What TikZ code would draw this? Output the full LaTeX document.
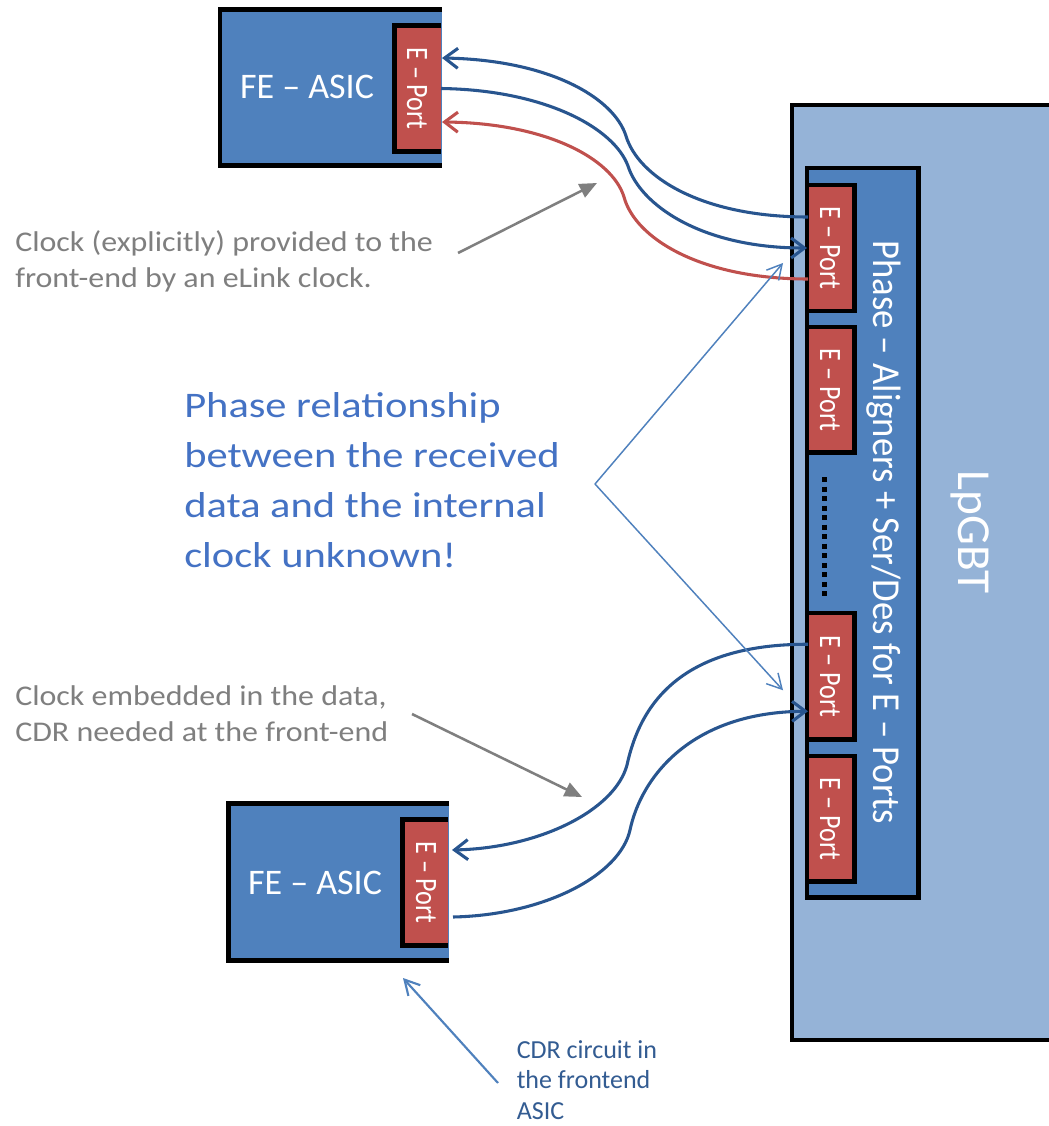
\documentclass[tikz,border=0pt]{standalone}
\usepackage{fontspec}
\setmainfont{Carlito}
\usepackage{graphicx}
\usetikzlibrary{arrows.meta,calc}

\definecolor{feblue}{HTML}{4F81BD}
\definecolor{epred}{HTML}{C0504D}
\definecolor{lpblue}{HTML}{95B3D7}
\definecolor{wireblue}{HTML}{28558F}
\definecolor{annogray}{HTML}{7F7F7F}
\definecolor{bigblue}{HTML}{4472C4}
\definecolor{thinblue}{HTML}{4F81BD}
\definecolor{cdrblue}{HTML}{335C92}

\newcommand{\pxbox}[6]{\node[#2, minimum width={(#5-#3)*0.75pt}, minimum height={(#6-#4)*0.75pt}, anchor=north west] (#1) at (#3,#4) {};}

\begin{document}
\begin{tikzpicture}[x=0.75pt,y=-0.75pt,
  rbox/.style={rectangle, inner sep=0pt, outer sep=0pt},
  fefill/.style={rbox, fill=feblue},
  epfill/.style={rbox, fill=epred},
  lpbox/.style={rbox, fill=lpblue, draw=black, line width=3.6pt},
  pabox/.style={rbox, fill=feblue, draw=black, line width=3.4pt},
  lepbox/.style={rbox, fill=epred, draw=black, line width=3.4pt},
  border/.style={draw=black, line width=3.6pt},
  whitetxt/.style={text=white, inner sep=0pt, outer sep=0pt},
  fetext/.style={whitetxt, font=\fontsize{27pt}{32pt}\selectfont},
  eptext/.style={whitetxt, rotate=-90, anchor=base, font=\fontsize{19.6pt}{23pt}\selectfont},
  wire/.style={draw=wireblue, line width=2.3pt},
  wirered/.style={draw=epred, line width=2.3pt},
  barb/.tip={Straight Barb[length=10pt,width=15pt]},
  grayarrow/.style={draw=annogray, line width=1.9pt, -{Triangle[length=13pt,width=11pt]}},
  thinarrow/.style={draw=thinblue, line width=1.1pt, -{Straight Barb[length=11pt,width=12pt]}},
  cdrarrow/.style={draw=thinblue, line width=1.6pt, -{Straight Barb[length=11pt,width=12pt]}},
  graytext/.style={text=annogray, inner sep=0pt, anchor=base west, font=\fontsize{21.4pt}{27pt}\selectfont},
  bigtext/.style={text=bigblue, inner sep=0pt, anchor=base west, font=\fontsize{27pt}{37.5pt}\selectfont},
  cdrtext/.style={text=cdrblue, inner sep=0pt, anchor=base west, font=\fontsize{19.5pt}{23.2pt}\selectfont}
]
\fill[white] (0,0) rectangle (1048,1126);
\useasboundingbox (0,0) rectangle (1048,1126);

% ---------- LpGBT ----------
\pxbox{lp}{lpbox}{792}{105}{1075}{1040}
\pxbox{pa}{pabox}{807}{168}{918.5}{897.5}
\pxbox{lep1}{lepbox}{807}{185}{854.5}{311}
\pxbox{lep2}{lepbox}{807}{327}{854.5}{452.5}
\pxbox{lep3}{lepbox}{807}{613}{854.5}{739.5}
\pxbox{lep4}{lepbox}{807}{756}{854.5}{881.5}
\node[eptext] (lep1t) at (820,248) {\scalebox{1}[1.19]{E – Port}};
\node[eptext] (lep2t) at (820,389.75) {\scalebox{1}[1.19]{E – Port}};
\node[eptext] (lep3t) at (820,676.25) {\scalebox{1}[1.19]{E – Port}};
\node[eptext] (lep4t) at (820,818.75) {\scalebox{1}[1.19]{E – Port}};
\draw[black, line width=3.75pt, dash pattern=on 3.75pt off 3.4pt]
  ($(lep2.south west)+(17.5,24.5)$) -- ($(lep3.north west)+(17.5,-16)$);
\node[whitetxt, rotate=-90, anchor=base, font=\fontsize{27.5pt}{33pt}\selectfont] (pat) at (873,532)
  {\scalebox{1}[1.08]{Phase – Aligners + Ser/Des for E – Ports}};
\node[whitetxt, rotate=-90, anchor=base, font=\fontsize{35.5pt}{42pt}\selectfont] (lpt) at (958,532) {LpGBT};

% ---------- top FE-ASIC ----------
\pxbox{fe1}{fefill}{220}{9.5}{442}{165.5}
\draw[border] (fe1.north east) -- (fe1.north west) -- (fe1.south west) -- (fe1.south east);
\pxbox{fep1}{epfill}{394.5}{25.5}{441}{151.5}
\draw[border] (fep1.north east) -- (fep1.north west) -- (fep1.south west) -- (fep1.south east);
\node[fetext, anchor=base] (fe1t) at (307,99) {FE – ASIC};
\node[eptext] (fep1t) at (407,88.5) {\scalebox{1}[1.19]{E – Port}};

% ---------- bottom FE-ASIC ----------
\pxbox{fe2}{fefill}{228.5}{803.5}{449}{960.5}
\draw[border] (fe2.north east) -- (fe2.north west) -- (fe2.south west) -- (fe2.south east);
\pxbox{fep2}{epfill}{402.5}{819.5}{448}{945.5}
\draw[border] (fep2.north east) -- (fep2.north west) -- (fep2.south west) -- (fep2.south east);
\node[fetext, anchor=base] (fe2t) at (315,894) {FE – ASIC};
\node[eptext] (fep2t) at (416,882.5) {\scalebox{1}[1.19]{E – Port}};

% ---------- top wires ----------
\draw[wire, barb-] ($(fep1.east)+(1,-30.5)$) .. controls (550,60) and (614,98) .. (626,136)
  .. controls (638,176) and (700,217) .. ($(lep1.west)+(1,-31)$);
\draw[wire, -barb] (fep1.east) .. controls (545,90) and (614,128) .. (628,166)
  .. controls (640,204) and (700,248) .. (lep1.west);
\draw[wirered, barb-] ($(fep1.east)+(1,33.5)$) .. controls (545,123) and (612,158) .. (624,197)
  .. controls (635,238) and (700,279) .. ($(lep1.west)+(1,31)$);

% ---------- bottom wires ----------
\draw[wire, barb-] ($(fep2.east)+(4,-32.5)$) .. controls (540,848) and (615,810) .. (627,765)
  .. controls (640,705) and (680,644) .. ($(lep3.west)+(1,-32)$);
\draw[wire, -barb] ($(fep2.east)+(5,34.5)$) .. controls (545,915) and (620,875) .. (630,830)
  .. controls (641,778) and (690,712) .. ($(lep3.west)+(1,35)$);

% ---------- annotations ----------
\node[graytext] (note1) at (15,252) {\scalebox{1.12}[1]{\vtop{\hbox{Clock (explicitly) provided to the}\hbox{front-end by an eLink clock.}}}};
\coordinate (g1tail) at (458,253);
\coordinate (g1tip) at (597,183);
\draw[grayarrow] (g1tail) -- (g1tip);

\node[graytext] (note2) at (15,705) {\scalebox{1.12}[1]{\vtop{\hbox{Clock embedded in the data,}\hbox{CDR needed at the front-end}}}};
\coordinate (g2tail) at (412,714);
\coordinate (g2tip) at (582,797);
\draw[grayarrow] (g2tail) -- (g2tip);

\node[bigtext] (phase) at (184,417) {\scalebox{1.18}[1]{\vtop{\hbox{Phase relationship}\hbox{between the received}\hbox{data and the internal}\hbox{clock unknown!}}}};
\coordinate (apex) at (595,484);
\draw[thinarrow] (apex) -- ($(lep1.west)+(-24,15)$);
\draw[thinarrow] (apex) -- ($(lep3.west)+(-24,14)$);

\node[cdrtext] (cdr) at (516.5,1058) {\vtop{\hbox{CDR circuit in}\hbox{the frontend}\hbox{ASIC}}};
\coordinate (cdrtail) at (498,1083);
\draw[cdrarrow] (cdrtail) -- ($(fe2.south east)+(-46,17.5)$);
\end{tikzpicture}
\end{document}
